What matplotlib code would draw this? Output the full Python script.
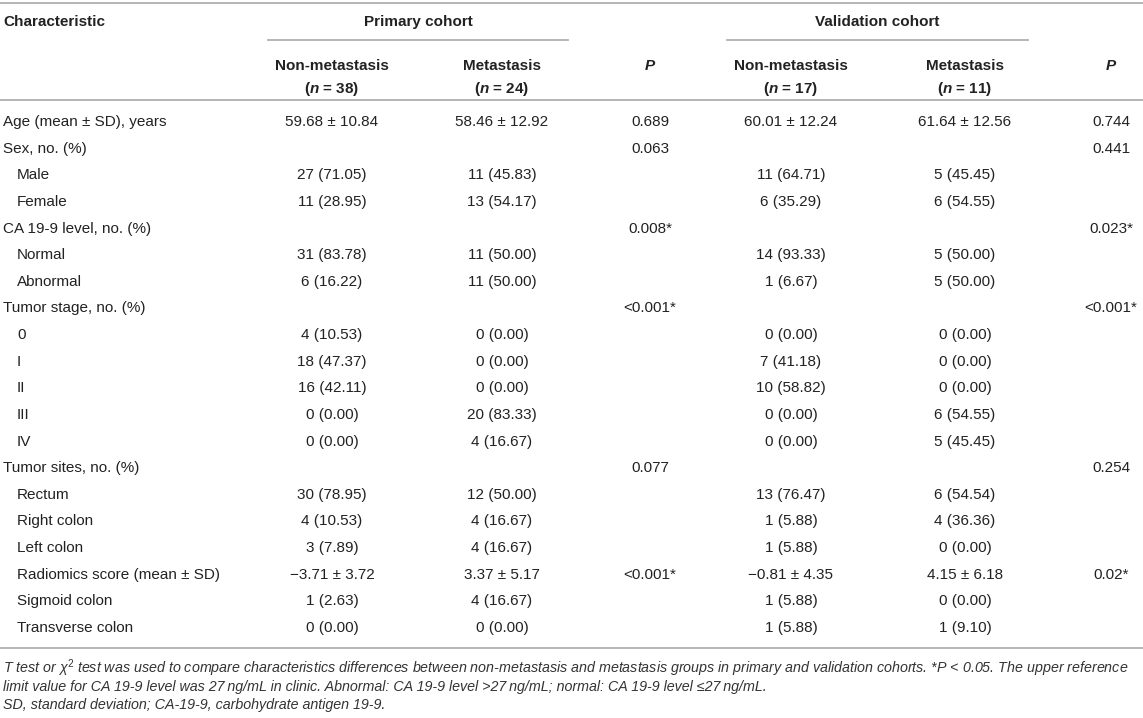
import matplotlib
matplotlib.use("Agg")
import matplotlib.pyplot as plt

plt.rcParams['font.family'] = ['Liberation Sans', 'DejaVu Sans']
plt.rcParams['mathtext.fontset'] = 'custom'
plt.rcParams['mathtext.rm'] = 'Liberation Sans'
plt.rcParams['mathtext.it'] = 'Liberation Sans:italic'
plt.rcParams['mathtext.bf'] = 'Liberation Sans:bold'
plt.rcParams['mathtext.bfit'] = 'Liberation Sans:bold:italic'

# table content
row_labels = ["Age (mean \u00b1 SD), years", "Sex, no. (%)", "Male", "Female",
              "CA 19-9 level, no. (%)", "Normal", "Abnormal",
              "Tumor stage, no. (%)", "0", "I", "II", "III", "IV",
              "Tumor sites, no. (%)", "Rectum", "Right colon", "Left colon",
              "Radiomics score (mean \u00b1 SD)", "Sigmoid colon", "Transverse colon"]
indented = [False, False, True, True, False, True, True, False, True, True, True,
            True, True, False, True, True, True, True, True, True]

prim_nonmet = ["59.68 \u00b1 10.84", "", "27 (71.05)", "11 (28.95)", "", "31 (83.78)",
               "6 (16.22)", "", "4 (10.53)", "18 (47.37)", "16 (42.11)", "0 (0.00)",
               "0 (0.00)", "", "30 (78.95)", "4 (10.53)", "3 (7.89)",
               "\u22123.71 \u00b1 3.72", "1 (2.63)", "0 (0.00)"]
prim_met = ["58.46 \u00b1 12.92", "", "11 (45.83)", "13 (54.17)", "", "11 (50.00)",
            "11 (50.00)", "", "0 (0.00)", "0 (0.00)", "0 (0.00)", "20 (83.33)",
            "4 (16.67)", "", "12 (50.00)", "4 (16.67)", "4 (16.67)",
            "3.37 \u00b1 5.17", "4 (16.67)", "0 (0.00)"]
prim_p = ["0.689", "0.063", "", "", "0.008*", "", "", "<0.001*", "", "", "", "", "",
          "0.077", "", "", "", "<0.001*", "", ""]
val_nonmet = ["60.01 \u00b1 12.24", "", "11 (64.71)", "6 (35.29)", "", "14 (93.33)",
              "1 (6.67)", "", "0 (0.00)", "7 (41.18)", "10 (58.82)", "0 (0.00)",
              "0 (0.00)", "", "13 (76.47)", "1 (5.88)", "1 (5.88)",
              "\u22120.81 \u00b1 4.35", "1 (5.88)", "1 (5.88)"]
val_met = ["61.64 \u00b1 12.56", "", "5 (45.45)", "6 (54.55)", "", "5 (50.00)",
           "5 (50.00)", "", "0 (0.00)", "0 (0.00)", "0 (0.00)", "6 (54.55)",
           "5 (45.45)", "", "6 (54.54)", "4 (36.36)", "0 (0.00)",
           "4.15 \u00b1 6.18", "0 (0.00)", "1 (9.10)"]
val_p = ["0.744", "0.441", "", "", "0.023*", "", "", "<0.001*", "", "", "", "", "",
         "0.254", "", "", "", "0.02*", "", ""]

group_names = ["Primary cohort", "Validation cohort"]
sub_headers = ["Non-metastasis", "Metastasis", "Non-metastasis", "Metastasis"]
n_counts = [38, 24, 17, 11]

footnotes = [
    "T test or \u03c7$^{2}$ test was used to compare characteristics differences between "
    "non-metastasis and metastasis groups in primary and validation cohorts. *P < 0.05. "
    "The upper reference",
    "limit value for CA 19-9 level was 27\u2009ng/mL in clinic. Abnormal: CA 19-9 level "
    ">27\u2009ng/mL; normal: CA 19-9 level \u226427\u2009ng/mL.",
    "SD, standard deviation; CA-19-9, carbohydrate antigen 19-9.",
]

W, H = 1143, 718
fig = plt.figure(figsize=(W / 100, H / 100), dpi=100)
ax = fig.add_axes([0, 0, 1, 1])
ax.set_xlim(0, W)
ax.set_ylim(H, 0)
ax.axis('off')

txt = '#222222'
rule = '#b0b0b0'
fs = 11

col_x = [332, 502, 650, 791, 965, 1111]
columns = [prim_nonmet, prim_met, prim_p, val_nonmet, val_met, val_p]

# rules
for y in (3, 100, 648):
    ax.plot([0, W], [y, y], color=rule, lw=1.3, solid_capstyle='butt')
ax.plot([268, 568], [40, 40], color=rule, lw=1.3)
ax.plot([727, 1028], [40, 40], color=rule, lw=1.3)

# header
ax.text(3, 22, "Characteristic", fontsize=fs, fontweight='bold', color=txt, va='center')
ax.text(418, 22, group_names[0], fontsize=fs, fontweight='bold', color=txt,
        va='center', ha='center')
ax.text(877, 22, group_names[1], fontsize=fs, fontweight='bold', color=txt,
        va='center', ha='center')
for i, cx in enumerate([col_x[0], col_x[1], col_x[3], col_x[4]]):
    ax.text(cx, 66, sub_headers[i], fontsize=fs, fontweight='bold', color=txt,
            va='center', ha='center')
    ax.text(cx, 89, r"($\mathbfit{n}$ = %d)" % n_counts[i], fontsize=fs,
            fontweight='bold', color=txt, va='center', ha='center')
for cx in (col_x[2], col_x[5]):
    ax.text(cx, 66, "P", fontsize=fs, fontweight='bold', fontstyle='italic',
            color=txt, va='center', ha='center')

# body
y0, dy = 122, 26.63
for r, label in enumerate(row_labels):
    y = y0 + r * dy
    ax.text(17 if indented[r] else 3, y, label, fontsize=fs, color=txt, va='center')
    for cx, col in zip(col_x, columns):
        if col[r]:
            ax.text(cx, y, col[r], fontsize=fs, color=txt, va='center', ha='center')

# footnotes
for i, line in enumerate(footnotes):
    ax.text(3, 668 + i * 18.5, line, fontsize=10.3, fontstyle='italic', color='#333333',
            va='center')

fig.savefig('out.png', dpi=100)
